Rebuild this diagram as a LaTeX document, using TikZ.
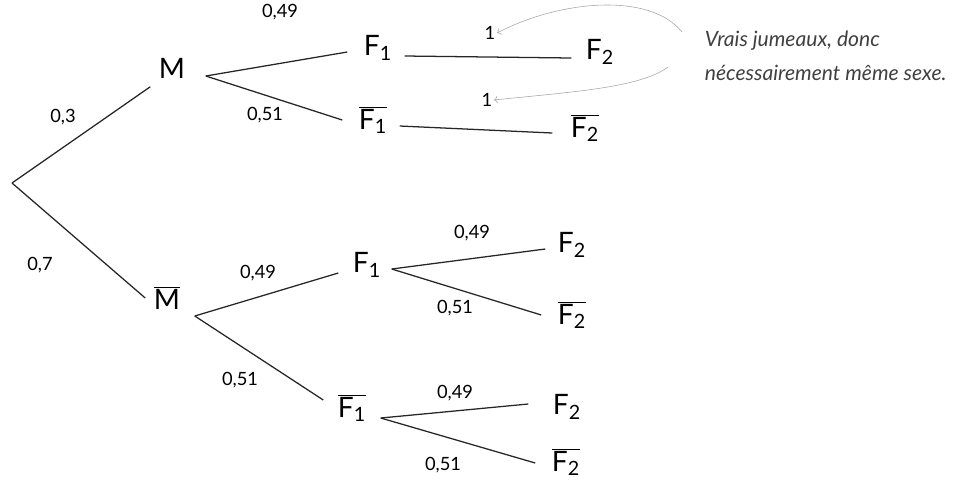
\documentclass[tikz,border=0pt]{standalone}
\usepackage{fontspec}
\setmainfont{Lato}
\usetikzlibrary{arrows.meta}

\begin{document}
\begin{tikzpicture}[x=0.025cm,y=-0.025cm,>=To,
  ev/.style={font=\fontsize{20}{22}\selectfont,inner sep=6pt},
  pr/.style={font=\fontsize{13}{15}\selectfont,inner sep=1pt},
  br/.style={line width=0.9pt,black!85}]
  \useasboundingbox (0,0) rectangle (971,483);

  % first level
  \coordinate (root) at (12,183);
  \node[ev] (M) at (172,68) {M};
  \node[ev] (Mb) at (167,298) {$\overline{\mathrm{M}}$};
  \draw[br] (root) -- (M.south west);
  \draw[br] (root) -- (Mb.west);
  \node[pr] (p1) at (63,117) {0,3};
  \node[pr] (p2) at (40,265) {0,7};

  % branch M
  \node[ev] (F1a) at (378,48) {$\mathrm{F}_{\mathrm{1}}$};
  \node[ev] (F1ab) at (373,120) {$\overline{\mathrm{F}_{\mathrm{1}}}$};
  \node[ev] (F2a) at (600,52) {$\mathrm{F}_{\mathrm{2}}$};
  \node[ev] (F2ab) at (585,128) {$\overline{\mathrm{F}_{\mathrm{2}}}$};
  \draw[br] ([shift={(12,8)}]M.east) -- ([shift={(-8,4)}]F1a.west);
  \draw[br] ([shift={(12,8)}]M.east) -- ([shift={(-8,0)}]F1ab.west);
  \draw[br] ([shift={(4,8)}]F1a.east) -- ([shift={(-6,6)}]F2a.west);
  \draw[br] ([shift={(4,6)}]F1ab.east) -- ([shift={(-10,5)}]F2ab.west);
  \node[pr] (p3) at (280,12) {0,49};
  \node[pr] (p4) at (265,115) {0,51};
  \node[pr] (la1) at (490,33) {1};
  \node[pr] (lb1) at (487,100) {1};

  % branch M bar
  \node[ev] (F1b) at (367,265) {$\mathrm{F}_{\mathrm{1}}$};
  \node[ev] (F1bb) at (352,408) {$\overline{\mathrm{F}_{\mathrm{1}}}$};
  \draw[br] ([shift={(6,18)}]Mb.east) -- ([shift={(-6,8)}]F1b.west);
  \draw[br] ([shift={(6,18)}]Mb.east) -- ([shift={(-6,-8)}]F1bb.west);
  \node[pr] (p7) at (258,273) {0,49};
  \node[pr] (p8) at (240,380) {0,51};

  \node[ev] (F2b) at (572,245) {$\mathrm{F}_{\mathrm{2}}$};
  \node[ev] (F2bb) at (572,315) {$\overline{\mathrm{F}_{\mathrm{2}}}$};
  \draw[br] ([shift={(2,4)}]F1b.east) -- ([shift={(-4,4)}]F2b.west);
  \draw[br] ([shift={(2,4)}]F1b.east) -- ([shift={(-8,0)}]F2bb.west);
  \node[pr] (p9) at (472,233) {0,49};
  \node[pr] (p10) at (455,308) {0,51};

  \node[ev] (F2c) at (567,407) {$\mathrm{F}_{\mathrm{2}}$};
  \node[ev] (F2cb) at (566,462) {$\overline{\mathrm{F}_{\mathrm{2}}}$};
  \draw[br] ([shift={(6,10)}]F1bb.east) -- ([shift={(-16,-3)}]F2c.west);
  \draw[br] ([shift={(6,10)}]F1bb.east) -- ([shift={(-8,1)}]F2cb.west);
  \node[pr] (p11) at (455,393) {0,49};
  \node[pr] (p12) at (443,465) {0,51};

  % remark
  \node[font=\itshape\fontsize{15}{24}\selectfont,align=left,anchor=north west,black!75] (note) at (700,26)
    {Vrais jumeaux, donc\\nécessairement même sexe.};
  \coordinate (s1) at (682,32);
  \coordinate (s2) at (668,67);
  \draw[gray!70,thin,->] (s1) .. controls (650,-8) and (560,0) .. (la1.east);
  \draw[gray!70,thin,->] (s2) .. controls (640,88) and (570,92) .. (lb1.east);
\end{tikzpicture}
\end{document}
